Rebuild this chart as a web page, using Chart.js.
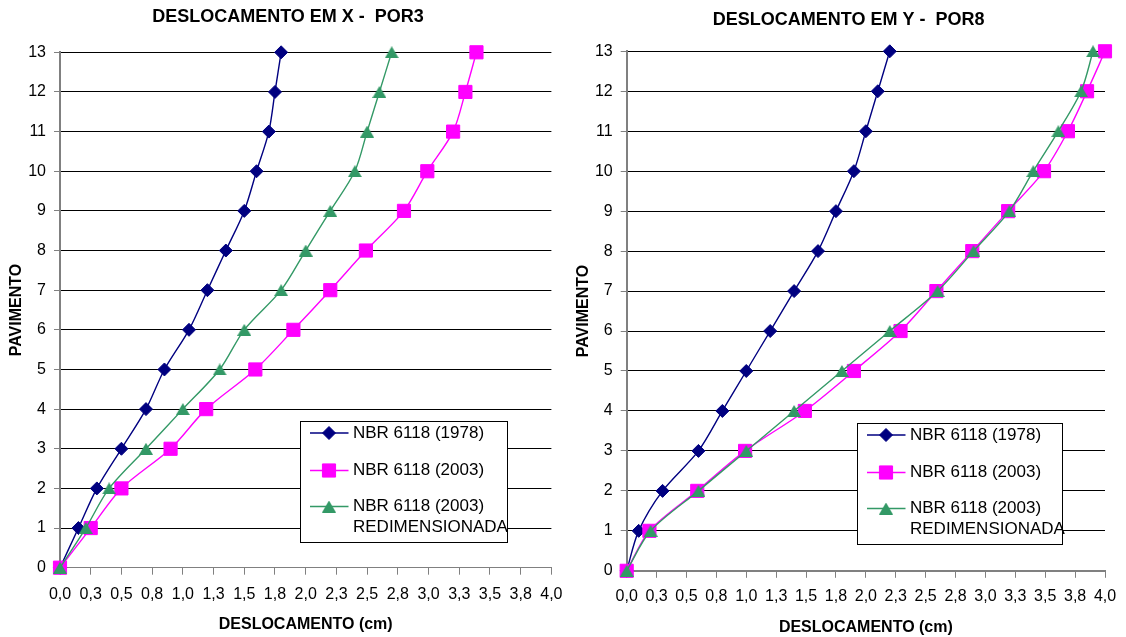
<!DOCTYPE html>
<html>
<head>
<meta charset="utf-8">
<script src="https://cdn.jsdelivr.net/npm/chart.js@4.4.1/dist/chart.umd.min.js"></script>
<style>
  html, body { margin: 0; padding: 0; background: #fff; overflow: hidden; width: 1126px; height: 637px; }
  canvas { position: absolute; top: 0; }
  #chartX { left: 0; }
  #chartY { left: 560px; }
</style>
</head>
<body>
<canvas id="chartX" width="576" height="637"></canvas>
<canvas id="chartY" width="578" height="637"></canvas>
<script>
// Floors (pavimentos) and x-axis tick labels
const pavimentos = [0, 1, 2, 3, 4, 5, 6, 7, 8, 9, 10, 11, 12, 13];
const xTickLabels = ['0,0', '0,3', '0,5', '0,8', '1,0', '1,3', '1,5', '1,8', '2,0',
                     '2,3', '2,5', '2,8', '3,0', '3,3', '3,5', '3,8', '4,0'];

// Series names
const serieNames = ['NBR 6118 (1978)', 'NBR 6118 (2003)', ['NBR 6118 (2003)', 'REDIMENSIONADA']];

// Displacement in X - POR3 (cm)
const por3_1978 = [0, 0.15, 0.30, 0.50, 0.70, 0.85, 1.05, 1.20, 1.35, 1.50, 1.60, 1.70, 1.75, 1.80];
const por3_2003 = [0, 0.25, 0.50, 0.90, 1.19, 1.59, 1.90, 2.20, 2.49, 2.80, 2.99, 3.20, 3.30, 3.39];
const por3_2003R = [0, 0.21, 0.40, 0.70, 1.00, 1.30, 1.50, 1.80, 2.00, 2.20, 2.40, 2.50, 2.60, 2.70];

// Displacement in Y - POR8 (cm)
const por8_1978 = [0, 0.10, 0.30, 0.60, 0.80, 1.00, 1.20, 1.40, 1.60, 1.75, 1.90, 2.00, 2.10, 2.20];
const por8_2003 = [0, 0.19, 0.59, 0.99, 1.49, 1.90, 2.29, 2.59, 2.89, 3.19, 3.49, 3.69, 3.85, 4.00];
const por8_2003R = [0, 0.20, 0.60, 1.00, 1.40, 1.80, 2.20, 2.60, 2.90, 3.20, 3.40, 3.61, 3.80, 3.90];

const FONT = '"Liberation Sans", Arial, sans-serif';

// Triangle marker centred on its bounding box
function triangleMarker(color) {
  const c = document.createElement('canvas');
  c.width = 14; c.height = 12;
  const g = c.getContext('2d');
  g.fillStyle = color;
  g.beginPath();
  g.moveTo(7, 0);
  g.lineTo(14, 12);
  g.lineTo(0, 12);
  g.closePath();
  g.fill();
  return c;
}

// Series styles: navy diamonds, magenta squares, sea-green triangles
const styles = [
  { color: '#000080', pointStyle: 'rectRot', radius: 6.5, order: 2 },
  { color: '#FF00FF', pointStyle: 'rect', radius: 9.3, order: 1 },
  { color: '#339966', pointStyle: triangleMarker('#339966'), radius: 7, order: 0 }
];

// Boxed legend drawn inside the plot area
const boxLegend = {
  id: 'boxLegend',
  afterDatasetsDraw(chart, args, opts) {
    const { ctx, chartArea: a } = chart;
    const x0 = Math.round(a.right - opts.right - opts.width);
    const y0 = Math.round(a.bottom - opts.bottom - opts.height);
    ctx.save();
    ctx.fillStyle = '#fff';
    ctx.fillRect(x0, y0, opts.width, opts.height);
    ctx.strokeStyle = '#000';
    ctx.lineWidth = 1;
    ctx.strokeRect(x0 + 0.5, y0 + 0.5, opts.width, opts.height);
    ctx.font = '17px ' + FONT;
    ctx.textBaseline = 'middle';
    ctx.textAlign = 'left';
    chart.data.datasets.forEach((ds, i) => {
      const cy = y0 + opts.rows[i];
      ctx.strokeStyle = ds.borderColor;
      ctx.lineWidth = ds.borderWidth;
      ctx.beginPath();
      ctx.moveTo(x0 + opts.lineFrom, cy);
      ctx.lineTo(x0 + opts.lineTo, cy);
      ctx.stroke();
      ctx.fillStyle = ds.pointBackgroundColor;
      ctx.strokeStyle = ds.pointBorderColor;
      ctx.lineWidth = 1;
      Chart.helpers.drawPoint(ctx, { pointStyle: ds.pointStyle, radius: ds.pointRadius, rotation: 0, borderWidth: 1 },
        x0 + opts.marker, cy);
      ctx.fillStyle = '#000';
      [].concat(ds.label).forEach((t, k) => ctx.fillText(t, x0 + opts.textX, cy + k * opts.lineGap));
    });
    ctx.restore();
  }
};

function makeChart(id, title, series, L) {
  const datasets = series.map((vals, i) => ({
    label: serieNames[i],
    data: pavimentos.map((p, k) => ({ x: vals[k], y: p })),
    showLine: true,
    borderColor: styles[i].color,
    backgroundColor: styles[i].color,
    pointBackgroundColor: styles[i].color,
    pointBorderColor: styles[i].color,
    pointBorderWidth: 1,
    pointStyle: styles[i].pointStyle,
    pointRadius: styles[i].radius,
    borderWidth: 1.4,
    tension: 0.3,
    clip: false,
    order: styles[i].order
  }));

  return new Chart(document.getElementById(id), {
    type: 'scatter',
    data: { datasets },
    options: {
      responsive: false,
      animation: false,
      devicePixelRatio: 1,
      layout: { padding: { left: L.padL, right: L.padR, top: 0, bottom: 0 } },
      plugins: {
        legend: { display: false },
        tooltip: { enabled: false },
        title: {
          display: true, text: title, color: '#000',
          font: { family: FONT, size: 18, weight: 'bold' },
          padding: { top: L.titlePadT, bottom: L.titlePadB }
        },
        boxLegend: L.legend
      },
      scales: {
        x: {
          type: 'linear', min: 0, max: 4,
          ticks: {
            stepSize: 0.25, autoSkip: false, maxRotation: 0, minRotation: 0,
            padding: L.xTickPad, color: '#000', font: { family: FONT, size: 16 },
            callback: (v) => xTickLabels[Math.round(v / 0.25)] ?? ''
          },
          grid: { drawOnChartArea: false, drawTicks: true, tickLength: 7, tickColor: '#808080', tickWidth: 1 },
          border: { display: true, color: '#808080', width: L.xBorder },
          title: {
            display: true, text: 'DESLOCAMENTO (cm)', color: '#000',
            font: { family: FONT, size: 16, weight: 'bold' },
            padding: { top: 0, bottom: L.xTitlePadB }
          },
          afterFit: (s) => { s.height = L.xHeight; }
        },
        y: {
          type: 'linear', min: 0, max: 13,
          ticks: { stepSize: 1, padding: 8, color: '#000', font: { family: FONT, size: 16 } },
          grid: {
            color: (c) => (c.tick && c.tick.value === 0) ? 'rgba(0,0,0,0)' : '#000',
            lineWidth: 1, drawTicks: true, tickLength: 6, tickColor: '#808080', tickWidth: 1
          },
          border: { display: true, color: '#808080', width: 2 },
          title: {
            display: true, text: 'PAVIMENTO', color: '#000',
            font: { family: FONT, size: 16, weight: 'bold' },
            padding: { top: L.yTitlePadT, bottom: 0 }
          },
          afterFit: (s) => { s.width = L.yWidth; }
        }
      }
    },
    plugins: [boxLegend]
  });
}

// Plot area: x 60..551.4, y 52.3..567.7 ; title centred at x 288
makeChart('chartX', 'DESLOCAMENTO EM X -  POR3', [por3_1978, por3_2003, por3_2003R], {
  padL: 24.6, padR: 24.6, titlePadT: 6.7, titlePadB: 24, xTickPad: 10.7, xTitlePadB: 2.4, xHeight: 69.3,
  xBorder: 1, yTitlePadT: -17.7, yWidth: 35.4,
  legend: { right: 44.5, bottom: 25.5, width: 207, height: 121, rows: [12, 49.5, 85.5],
            lineGap: 21.3, lineFrom: 10, lineTo: 48.5, marker: 29, textX: 53 }
});

// Plot area: x 66.7..545 (canvas), y 51.3..570.8 ; title centred at x 288.7
makeChart('chartY', 'DESLOCAMENTO EM Y -  POR8', [por8_1978, por8_2003, por8_2003R], {
  padL: 32.4, padR: 33, titlePadT: 9.2, titlePadB: 20.5, xTickPad: 9.6, xTitlePadB: 0, xHeight: 66.2,
  xBorder: 2, yTitlePadT: -18.7, yWidth: 34.3,
  legend: { right: 43, bottom: 26.5, width: 205, height: 121, rows: [12, 49.5, 85.5],
            lineGap: 21.3, lineFrom: 10, lineTo: 48.5, marker: 29, textX: 53 }
});
</script>
</body>
</html>
